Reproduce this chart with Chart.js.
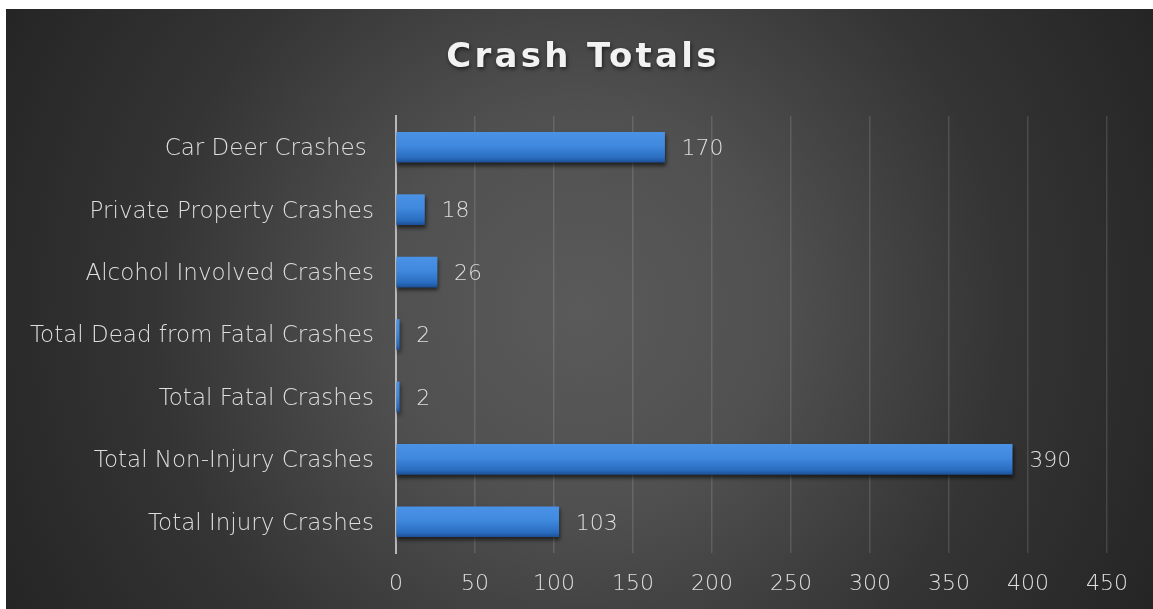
<!DOCTYPE html>
<html>
<head>
<meta charset="utf-8">
<script src="https://cdn.jsdelivr.net/npm/chart.js@4/dist/chart.umd.min.js"></script>
<style>
html,body{margin:0;padding:0;background:#fff;width:1153px;height:609px;overflow:hidden;}
#wrap{position:absolute;left:6px;top:9px;width:1147px;height:600px;}
</style>
</head>
<body>
<div id="wrap"><canvas id="c"></canvas></div>
<script>
const categories = ["Car Deer Crashes ", "Private Property Crashes", "Alcohol Involved Crashes", "Total Dead from Fatal Crashes", "Total Fatal Crashes", "Total Non-Injury Crashes", "Total Injury Crashes"];
const crashValues = [170, 18, 26, 2, 2, 390, 103];
const xTicks = [0, 50, 100, 150, 200, 250, 300, 350, 400, 450];
const chartTitle = "Crash Totals";

const FONT = "'Century Gothic', 'DejaVu Sans', sans-serif";
const TEXT = "#dedede";
const NUM_SIZE = 22;
const CAT_SIZE = 23;

const bgPlugin = {
  id: 'bg',
  beforeDraw(chart) {
    const {ctx, width, height} = chart;
    ctx.save();
    const cx = width / 2, cy = height / 2;
    const g = ctx.createRadialGradient(cx, cy, 0, cx, cy, 660);
    g.addColorStop(0, '#5a5a5a');
    g.addColorStop(0.3, '#505050');
    g.addColorStop(0.65, '#343434');
    g.addColorStop(1, '#242424');
    ctx.fillStyle = g;
    ctx.fillRect(0, 0, width, height);
    ctx.font = "bold 34px " + FONT;
    ctx.textAlign = 'center';
    ctx.textBaseline = 'middle';
    try { ctx.letterSpacing = '3.3px'; } catch (e) {}
    ctx.shadowColor = 'rgba(0,0,0,0.6)';
    ctx.shadowBlur = 4;
    ctx.shadowOffsetX = 1;
    ctx.shadowOffsetY = 2;
    ctx.fillStyle = '#f2f2f2';
    ctx.fillText(chartTitle, 577, 49);
    ctx.restore();
  },
  beforeDatasetsDraw(chart) {
    const ctx = chart.ctx;
    ctx.save();
    ctx.shadowColor = 'rgba(0,0,0,0.6)';
    ctx.shadowBlur = 4;
    ctx.shadowOffsetX = 1;
    ctx.shadowOffsetY = 3;
  },
  afterDatasetsDraw(chart) {
    const ctx = chart.ctx;
    ctx.restore();
    ctx.save();
    ctx.font = "300 " + NUM_SIZE + "px " + FONT;
    ctx.fillStyle = TEXT;
    ctx.textAlign = 'left';
    ctx.textBaseline = 'middle';
    const meta = chart.getDatasetMeta(0);
    meta.data.forEach((bar, i) => {
      ctx.fillText(String(chart.data.datasets[0].data[i]), bar.x + 17, bar.y + 2);
    });
    ctx.restore();
  }
};

new Chart(document.getElementById('c'), {
  type: 'bar',
  data: {
    labels: categories,
    datasets: [{
      data: crashValues,
      barThickness: 30,
      borderWidth: 0,
      backgroundColor(ctx) {
        const chart = ctx.chart;
        const ys = chart.scales && chart.scales.y;
        if (!ys || ctx.dataIndex === undefined) return '#3f88dc';
        const yc = ys.getPixelForValue(ctx.dataIndex);
        if (!isFinite(yc)) return '#3f88dc';
        const g = chart.ctx.createLinearGradient(0, yc - 15, 0, yc + 15);
        g.addColorStop(0, '#4a92e6');
        g.addColorStop(0.45, '#3f89de');
        g.addColorStop(0.85, '#2a6dc0');
        g.addColorStop(1, '#1d5199');
        return g;
      }
    }]
  },
  options: {
    indexAxis: 'y',
    responsive: true,
    maintainAspectRatio: false,
    animation: false,
    layout: { padding: { top: 107, right: 46, left: 0, bottom: 0 } },
    plugins: { legend: { display: false }, title: { display: false }, tooltip: { enabled: false } },
    scales: {
      x: {
        min: 0, max: 450,
        afterBuildTicks(scale) { scale.ticks = xTicks.map(v => ({ value: v })); },
        afterFit(scale) { scale.height = 56; },
        ticks: { color: TEXT, font: { family: FONT, size: NUM_SIZE, weight: 300 }, padding: 18 },
        grid: {
          drawTicks: false,
          color: (c) => c.tick && c.tick.value === 0 ? 'rgba(0,0,0,0)' : 'rgba(255,255,255,0.13)',
          lineWidth: 1.5
        },
        border: { display: false }
      },
      y: {
        afterFit(scale) { scale.width = 390; },
        ticks: { color: TEXT, font: { family: FONT, size: CAT_SIZE, weight: 300 }, padding: 22, labelOffset: 2 },
        grid: { display: false, drawTicks: false },
        border: { display: true, color: '#b8b8b8', width: 2 }
      }
    }
  },
  plugins: [bgPlugin]
});
</script>
</body>
</html>
